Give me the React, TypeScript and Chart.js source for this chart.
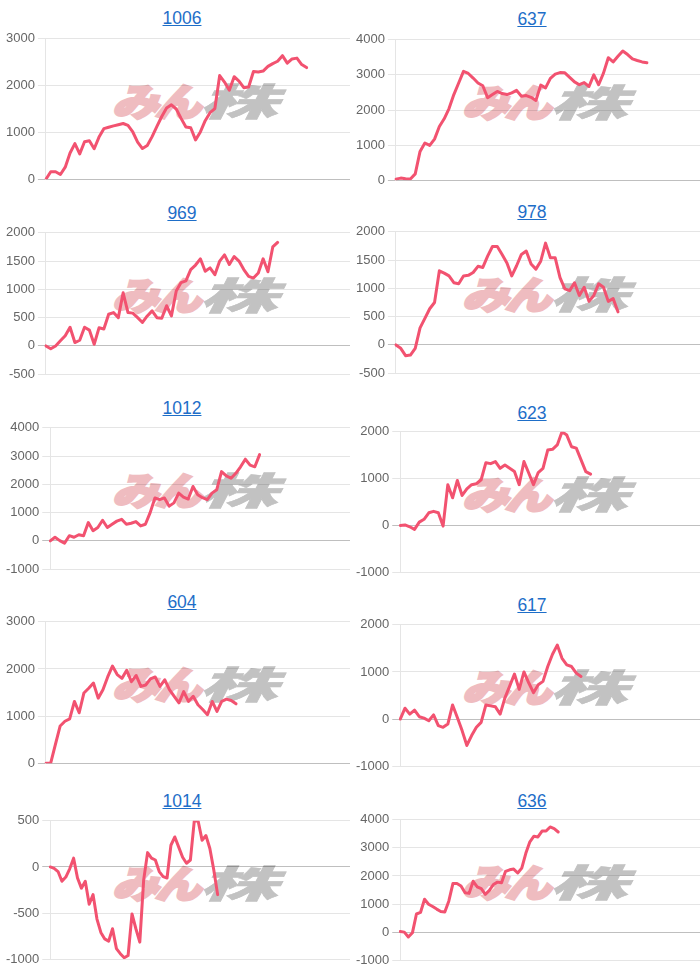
import React, { useEffect, useRef } from "react";
import { Chart, registerables } from "chart.js";

Chart.register(...registerables);

// ---- titles ----
const titles = ["1006", "637", "969", "978", "1012", "623", "604", "617", "1014", "636"];

// ---- series values (cumulative results) ----
const s1006 = [0, 160, 160, 100, 257, 560, 760, 540, 800, 820, 650, 900, 1080, 1110, 1140, 1165, 1190, 1150, 1009, 794, 655, 720, 910, 1130, 1340, 1520, 1590, 1500, 1300, 1115, 1100, 840, 1010, 1250, 1420, 1510, 2215, 2075, 1900, 2190, 2096, 1956, 1970, 2300, 2290, 2310, 2410, 2470, 2520, 2640, 2480, 2570, 2587, 2450, 2385];
const s637 = [30, 60, 40, 35, 180, 820, 1060, 990, 1170, 1530, 1750, 2040, 2440, 2770, 3100, 3040, 2910, 2770, 2690, 2350, 2440, 2530, 2470, 2440, 2490, 2560, 2390, 2410, 2360, 2270, 2710, 2630, 2900, 3020, 3065, 3060, 2930, 2800, 2720, 2780, 2670, 3000, 2720, 3050, 3490, 3370, 3530, 3680, 3580, 3455, 3410, 3370, 3345];
const s969 = [0, -50, 0, 90, 180, 330, 60, 100, 330, 280, 30, 320, 300, 560, 590, 500, 940, 590, 580, 500, 415, 530, 620, 500, 490, 710, 530, 970, 1120, 1150, 1350, 1430, 1540, 1320, 1380, 1260, 1500, 1610, 1440, 1580, 1500, 1350, 1230, 1200, 1290, 1540, 1310, 1750, 1830];
const s978 = [0, -60, -190, -180, -60, 300, 470, 640, 750, 1310, 1270, 1220, 1100, 1080, 1220, 1230, 1280, 1390, 1370, 1570, 1740, 1740, 1600, 1450, 1220, 1400, 1600, 1660, 1430, 1340, 1480, 1800, 1540, 1540, 1190, 990, 960, 1100, 875, 1020, 770, 875, 1080, 1020, 770, 820, 585];
const s1012 = [0, 130, 10, -80, 185, 130, 220, 185, 650, 360, 475, 730, 475, 590, 700, 765, 590, 625, 685, 530, 590, 1000, 1520, 1460, 1520, 1230, 1345, 1690, 1550, 1480, 1925, 1635, 1530, 1460, 1690, 1810, 2450, 2300, 2215, 2390, 2620, 2890, 2680, 2620, 3050];
const s623 = [0, 10, -30, -85, 70, 130, 270, 300, 270, -15, 870, 590, 960, 640, 780, 870, 890, 975, 1340, 1320, 1365, 1220, 1290, 1220, 1150, 870, 1365, 1120, 870, 1130, 1220, 1610, 1625, 1720, 2000, 1930, 1680, 1650, 1400, 1150, 1095];
const s604 = [0, 0, 400, 790, 890, 940, 1310, 1070, 1490, 1590, 1700, 1380, 1560, 1830, 2060, 1880, 1800, 1970, 1730, 1860, 1630, 1660, 1790, 1830, 1630, 1770, 1560, 1420, 1280, 1520, 1310, 1420, 1240, 1140, 1030, 1310, 1100, 1310, 1360, 1330, 1260];
const s617 = [0, 230, 105, 190, 50, 20, -35, 90, -140, -175, -105, 300, 35, -245, -560, -350, -175, -70, 300, 280, 260, 105, 450, 700, 955, 630, 1000, 770, 560, 730, 800, 1115, 1375, 1570, 1290, 1150, 1115, 975, 905];
const s1014 = [0, -15, -50, -155, -110, -20, 95, -120, -230, -155, -405, -300, -565, -710, -780, -805, -670, -885, -940, -985, -960, -510, -670, -815, -140, 155, 95, 75, -50, -105, -120, 235, 325, 215, 105, 40, 75, 500, 495, 290, 340, 200, -30, -300];
const s636 = [20, 0, -175, -25, 645, 700, 1170, 995, 910, 820, 735, 720, 1110, 1730, 1730, 1640, 1400, 1380, 1810, 1610, 1545, 1345, 1485, 1695, 1780, 1755, 2165, 2220, 2245, 2105, 2280, 2805, 3215, 3415, 3390, 3600, 3600, 3745, 3685, 3565];

const seriesList = [s1006, s637, s969, s978, s1012, s623, s604, s617, s1014, s636];

// ---- x slots (number of category labels on each x axis) ----
const slotCounts = [64, 64, 64, 64, 64, 64, 65, 64, 78, 75];

// ---- y axis tick ranges ----
const yMins = [0, 0, -500, -500, -1000, -1000, 0, -1000, -1000, -1000];
const yMaxs = [3000, 4000, 2000, 2000, 4000, 2000, 3000, 2000, 500, 4000];
const ySteps = [1000, 1000, 500, 500, 1000, 1000, 1000, 1000, 500, 1000];

// ---- layout (page pixels) ----
const plotTops = [38, 39, 232, 231, 427, 431, 621, 624, 820, 819];
const plotHeights = [142, 142, 143, 143, 143, 142, 143, 143, 140, 142];
const titleCenters = [18, 19, 213, 212, 408, 413, 602, 605, 801, 801];

const LINE_COLOR = "rgb(242, 82, 112)";
const PAD = 10;
const MARK_FONT = "'Noto Sans CJK JP', sans-serif";

function Panel({ idx }: { idx: number }) {
  const ref = useRef<HTMLCanvasElement | null>(null);
  const colLeft = (idx % 2) * 350;
  const plotTop = plotTops[idx];
  const h = plotHeights[idx] + PAD * 2;

  useEffect(() => {
    if (!ref.current) return;
    const labels = Array.from({ length: slotCounts[idx] }, (_, i) => String(i + 1));
    const chart = new Chart(ref.current, {
      type: "line",
      data: {
        labels,
        datasets: [
          {
            data: seriesList[idx],
            borderColor: LINE_COLOR,
            backgroundColor: LINE_COLOR,
            borderWidth: 3,
            pointRadius: 0,
            tension: 0,
            fill: false,
            borderJoinStyle: "round",
            borderCapStyle: "round",
          },
        ],
      },
      options: {
        animation: false,
        responsive: false,
        maintainAspectRatio: false,
        devicePixelRatio: 1,
        layout: { padding: { left: 3, right: 0, top: PAD, bottom: PAD } },
        plugins: { legend: { display: false }, tooltip: { enabled: false }, title: { display: false } },
        scales: {
          x: { display: false },
          y: {
            min: yMins[idx],
            max: yMaxs[idx],
            ticks: {
              stepSize: ySteps[idx],
              color: "#666",
              padding: 3,
              font: { family: "'Liberation Sans', Arial, sans-serif", size: 13 },
              callback: (v: any) => String(v),
            },
            grid: {
              color: (ctx: any) =>
                ctx.tick && ctx.tick.value === 0 ? "rgba(0,0,0,0.25)" : "rgba(0,0,0,0.1)",
              tickLength: 8,
              lineWidth: 1,
            },
            border: { color: "rgba(0,0,0,0.1)" },
          },
        },
      },
    });
    return () => chart.destroy();
  }, [idx]);

  return (
    <>
      <div
        style={{
          position: "absolute",
          left: colLeft + 182 - 100,
          top: titleCenters[idx] - 10,
          width: 200,
          height: 20,
          lineHeight: "20px",
          textAlign: "center",
          fontFamily: "'Liberation Sans', Arial, sans-serif",
          fontSize: 17.5,
          color: "#1e6ec8",
          textDecoration: "underline",
        }}
      >
        {titles[idx]}
      </div>
      <div
        style={{
          position: "absolute",
          left: colLeft + 112,
          top: plotTop + 43,
          whiteSpace: "nowrap",
          fontFamily: MARK_FONT,
          fontWeight: 900,
          fontStyle: "italic",
          fontSize: 38,
          lineHeight: "38px",
          letterSpacing: "-3px",
          color: "#efbcc0",
          WebkitTextStroke: "2.5px #efbcc0",
          transform: "scaleX(1.22)",
          transformOrigin: "left top",
        }}
      >
        みん
      </div>
      <div
        style={{
          position: "absolute",
          left: colLeft + 199,
          top: plotTop + 43,
          whiteSpace: "nowrap",
          fontFamily: MARK_FONT,
          fontWeight: 900,
          fontStyle: "italic",
          fontSize: 38,
          lineHeight: "38px",
          color: "#c2c2c2",
          WebkitTextStroke: "0.5px #c2c2c2",
          transform: "scaleX(2.05)",
          transformOrigin: "left top",
        }}
      >
        株
      </div>
      <canvas
        ref={ref}
        width={350}
        height={h}
        style={{
          position: "absolute",
          left: colLeft,
          top: plotTop - PAD,
          width: 350,
          height: h,
        }}
      />
    </>
  );
}

export default function App() {
  return (
    <div
      style={{
        position: "absolute",
        left: 0,
        top: 0,
        width: 700,
        height: 972,
        overflow: "hidden",
        background: "#fff",
      }}
    >
      {titles.map((_, i) => (
        <Panel key={i} idx={i} />
      ))}
    </div>
  );
}
